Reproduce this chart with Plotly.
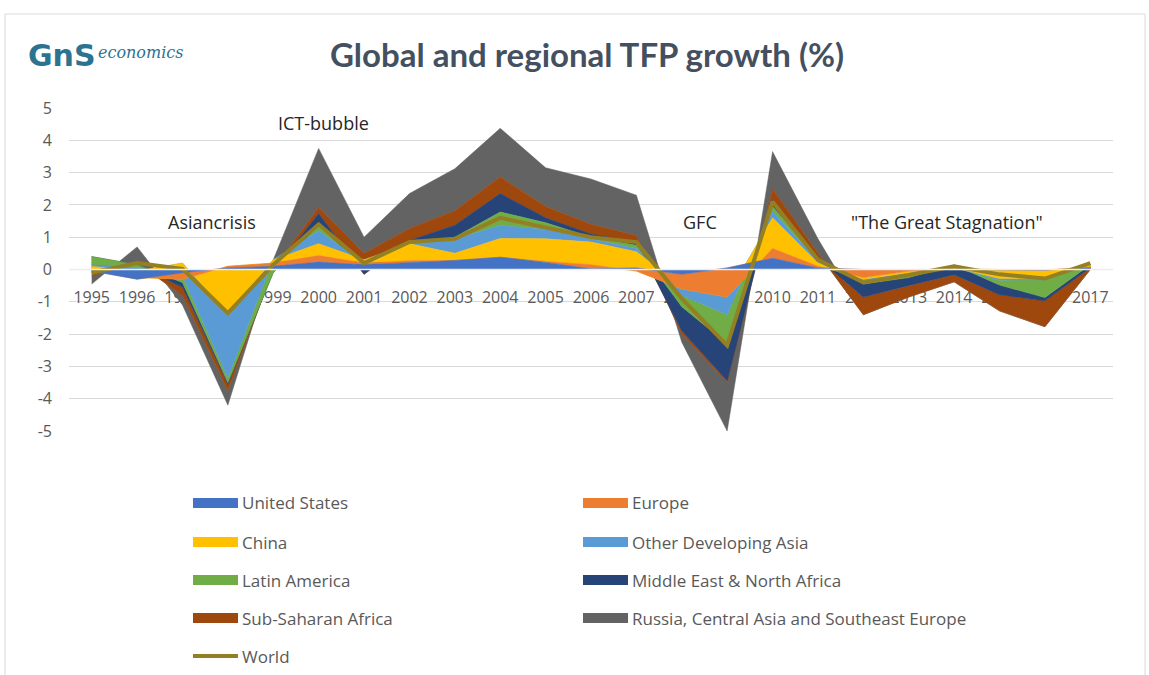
import numpy as np
import plotly.graph_objects as go

years = list(range(1995, 2018))
year_labels = [str(y) for y in years]

united_states = [-0.05, -0.30, -0.10, 0.05, 0.10, 0.23, 0.15, 0.22, 0.28, 0.38, 0.22, 0.02, 0.05, -0.15, 0.05, 0.35, 0.05, 0.00, 0.00, 0.00, 0.00, -0.02, 0.05]
europe = [0.05, 0.05, -0.20, 0.05, 0.10, 0.20, 0.05, 0.05, 0.00, 0.00, 0.03, 0.13, -0.10, -0.45, -0.90, 0.30, 0.05, -0.25, -0.05, 0.02, 0.00, 0.00, 0.03]
china = [0.10, 0.20, 0.50, -1.45, 0.10, 0.37, 0.10, 0.53, 0.22, 0.58, 0.70, 0.70, 0.60, 0.10, 0.05, 0.95, 0.10, -0.05, -0.05, 0.04, -0.28, -0.25, 0.07]
other_dev_asia = [0.05, 0.10, -0.40, -2.00, 0.00, 0.40, -0.10, 0.05, 0.45, 0.40, 0.30, 0.10, 0.10, -0.30, -0.60, 0.20, 0.05, -0.05, -0.05, 0.00, -0.05, -0.05, 0.00]
latin_america = [0.25, 0.10, -0.20, -0.15, -0.40, 0.15, -0.15, -0.05, 0.05, 0.42, 0.20, 0.05, 0.10, -0.35, -0.90, 0.15, 0.05, -0.10, -0.10, 0.08, -0.15, -0.55, 0.00]
mena = [-0.50, -0.05, -0.15, -0.05, 0.05, 0.38, -0.20, 0.10, 0.37, 0.57, 0.15, 0.10, 0.10, -0.75, -1.15, 0.20, 0.05, -0.40, -0.25, -0.30, -0.30, -0.10, -0.10]
ssa = [-0.10, 0.10, -0.25, -0.20, 0.05, 0.20, 0.65, 0.37, 0.45, 0.52, 0.35, 0.30, 0.20, -0.10, -0.05, 0.35, 0.15, -0.55, -0.35, -0.22, -0.50, -0.80, -0.05]
russia_casia_see = [-0.25, 0.50, -0.30, -0.45, 0.30, 1.82, 0.50, 1.08, 1.30, 1.50, 1.20, 1.40, 1.25, -0.25, -1.50, 1.15, 0.45, 0.00, 0.00, 0.00, 0.00, 0.00, 0.00]
world = [-0.10, 0.20, 0.02, -1.35, 0.15, 1.40, 0.20, 0.85, 0.95, 1.60, 1.30, 1.00, 0.85, -0.90, -2.35, 2.10, 0.30, -0.40, -0.17, 0.10, -0.15, -0.28, 0.20]

series_names = ["United States", "Europe", "China", "Other Developing Asia", "Latin America",
                "Middle East & North Africa", "Sub-Saharan Africa", "Russia, Central Asia and Southeast Europe"]
series_values = [united_states, europe, china, other_dev_asia, latin_america, mena, ssa, russia_casia_see]
series_colors = ["#4472C4", "#ED7D31", "#FFC000", "#5B9BD5", "#70AD47", "#264478", "#9E480E", "#636363"]
world_color = "#948022"

y_ticks = [5, 4, 3, 2, 1, 0, -1, -2, -3, -4, -5]
y_tick_labels = [str(v) for v in y_ticks]

W, H = 1149, 675
L, R, T, B = 69, 36, 108, 244
PW, PH = W - L - R, H - T - B


def px_x(px):
    return (px - L) / PW


def px_y(py):
    return (H - B - py) / PH


# stacked (cumulative) bands, drawn so that the first series ends up in front (as in Excel)
cum = np.cumsum(np.array(series_values, dtype=float), axis=0)
base = np.vstack([np.zeros(len(years)), cum[:-1]])

fig = go.Figure()
for i in reversed(range(len(series_names))):
    xs = years + years[::-1]
    ys = list(cum[i]) + list(base[i][::-1])
    fig.add_trace(go.Scatter(
        x=xs, y=ys, name=series_names[i], mode="lines", fill="toself",
        line=dict(color=series_colors[i], width=0.5), fillcolor=series_colors[i],
        showlegend=False, hoverinfo="skip"))

fig.add_trace(go.Scatter(x=years, y=world, name="World", mode="lines",
                         line=dict(color=world_color, width=4), showlegend=False))

tick_font = dict(family="Open Sans", size=16, color="#595959")

fig.update_layout(
    width=W, height=H,
    margin=dict(l=L, r=R, t=T, b=B),
    paper_bgcolor="white", plot_bgcolor="white",
    title=dict(text="<b>Global and regional TFP growth (%)</b>", x=587 / W, xanchor="center",
               y=1 - 55 / H, yanchor="middle",
               font=dict(family="Lato", size=33, color="#44505f")),
    xaxis=dict(range=[1994.5, 2017.5], tickvals=years, ticktext=year_labels,
               showgrid=False, zeroline=False, showline=False, ticks="",
               anchor="free", position=0.5, layer="below traces",
               ticklabelstandoff=16, tickfont=tick_font),
    yaxis=dict(range=[-5, 5], tickvals=y_ticks, ticktext=y_tick_labels,
               showgrid=True, gridcolor="#d9d9d9", gridwidth=1, zeroline=False,
               ticks="", ticklabelstandoff=16, tickfont=tick_font),
)

# zero axis line drawn over areas
fig.add_shape(type="line", xref="paper", yref="y", x0=0, x1=1, y0=0, y1=0,
              line=dict(color="#ececec", width=1.5), layer="above")

# event annotations
ann_font = dict(family="Open Sans", size=18, color="#262626")
events = [("ICT-bubble", 2000.1, 4.53), ("Asiancrisis", 1997.65, 1.47),
          ("GFC", 2008.4, 1.47), ("\"The Great Stagnation\"", 2013.85, 1.47)]
for txt, ex, ey in events:
    fig.add_annotation(text=txt, x=ex, y=ey, xref="x", yref="y", showarrow=False,
                       font=ann_font, xanchor="center", yanchor="middle")

# logo
fig.add_annotation(text="<b>GnS</b>", x=px_x(26), y=px_y(56), xref="paper", yref="paper",
                   showarrow=False, xanchor="left", yanchor="middle",
                   font=dict(family="DejaVu Sans", size=30, color="#2b7391"))
fig.add_annotation(text="<i>economics</i>", x=px_x(96), y=px_y(52), xref="paper", yref="paper",
                   showarrow=False, xanchor="left", yanchor="middle",
                   font=dict(family="DejaVu Serif", size=16, color="#2b7391"))

# manual legend
legend_items = series_names + ["World"]
legend_colors = series_colors + [world_color]
rows_y = [503, 542, 580, 618, 656]
cols_x = [193, 583]
leg_font = dict(family="Open Sans", size=17, color="#595959")
for i, (nm, col) in enumerate(zip(legend_items, legend_colors)):
    r, c = divmod(i, 2)
    sx, sy = cols_x[c], rows_y[r]
    if nm == "World":
        fig.add_shape(type="line", xref="paper", yref="paper",
                      x0=px_x(sx), x1=px_x(sx + 45), y0=px_y(sy), y1=px_y(sy),
                      line=dict(color=col, width=4))
    else:
        fig.add_shape(type="rect", xref="paper", yref="paper",
                      x0=px_x(sx), x1=px_x(sx + 45), y0=px_y(sy - 5), y1=px_y(sy + 5),
                      line=dict(width=0), fillcolor=col)
    fig.add_annotation(text=nm, x=px_x(sx + 47), y=px_y(sy), xref="paper", yref="paper",
                       showarrow=False, xanchor="left", yanchor="middle", font=leg_font)

# outer frame
fig.add_shape(type="rect", xref="paper", yref="paper",
              x0=px_x(5), x1=px_x(1145), y0=px_y(14), y1=px_y(690),
              line=dict(color="#d9d9d9", width=1), fillcolor="rgba(0,0,0,0)", layer="below")

fig.write_html("out.html", config={"displayModeBar": False},
               post_script="document.body.style.margin='0';document.body.style.overflow='hidden';")
